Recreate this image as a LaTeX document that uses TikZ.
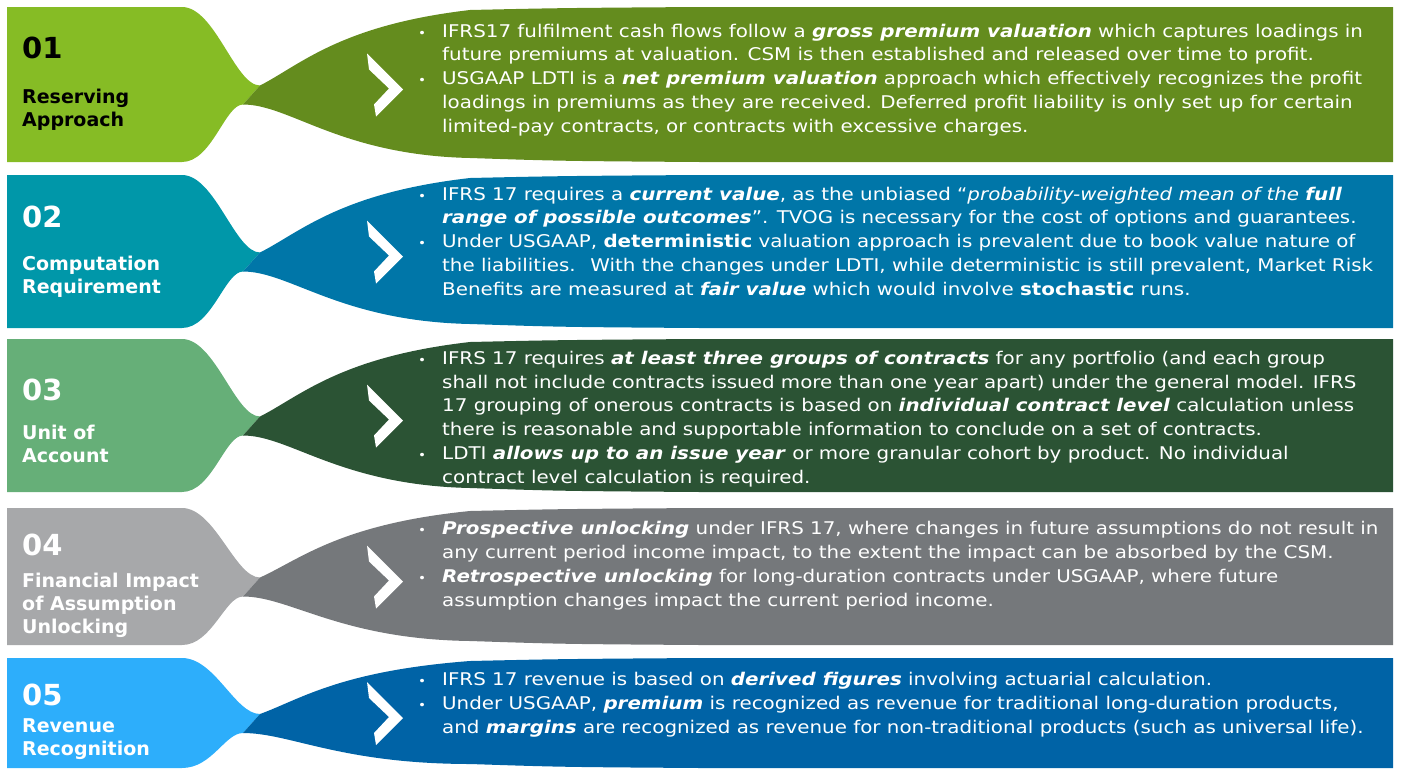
\documentclass[tikz,border=0pt]{standalone}
\usepackage{fontspec}
\setmainfont{DejaVu Sans}
\newfontfamily\bodyfont{DejaVu Sans}[FakeStretch=1.135]
\usepackage{tikz}

\definecolor{greenL}{HTML}{86BC25}
\definecolor{greenD}{HTML}{648C1E}
\definecolor{tealL}{HTML}{0097A9}
\definecolor{tealD}{HTML}{0076A8}
\definecolor{mossL}{HTML}{66AF78}
\definecolor{mossD}{HTML}{2B5334}
\definecolor{greyL}{HTML}{A7A8AA}
\definecolor{greyD}{HTML}{75787B}
\definecolor{skyL}{HTML}{2DAEFB}
\definecolor{skyD}{HTML}{0063A6}

\newcommand{\bfit}[1]{\textbf{\textit{#1}}}
\newcommand{\bul}{\makebox[24pt][l]{\fontsize{12}{12}\selectfont\textbullet}}
\newcommand{\ind}{\hspace*{24pt}}

\tikzset{
    body/.style={anchor=base west, align=left, inner sep=0pt, text=white,
        font=\bodyfont\fontsize{17.5}{23.7}\selectfont},
    num/.style={anchor=base west, inner sep=0pt, text=white,
        font=\fontsize{29}{29}\selectfont\bfseries},
    lab/.style={anchor=base west, align=left, inner sep=0pt, text=white,
        font=\fontsize{19}{23}\selectfont\bfseries}
}

\begin{document}
\begin{tikzpicture}[x=1pt, y=-1pt]
    \useasboundingbox (0,0) rectangle (1402,769);

    % Bands: light tab, dark body and chevron
    \foreach \ya/\yb/\lc/\dc in {7/162/greenL/greenD, 175/328/tealL/tealD,
            339/492/mossL/mossD, 508/645/greyL/greyD, 658/768/skyL/skyD} {
        \pgfmathsetmacro\cy{(\ya+\yb)/2}
        \pgfmathsetmacro\na{\cy+1}
        \pgfmathsetmacro\nb{\cy+20}
        \fill[\lc] (7,\ya) -- (182,\ya) .. controls (215,\ya) and (235,\na) .. (260,\na)
            -- (243,\nb) .. controls (225,\nb) and (212,\yb) .. (182,\yb) -- (7,\yb) -- cycle;
        \fill[\dc] (260,\na) .. controls (300,{\na-0.26*(\na-\ya)}) and (340,{\ya+0.23*(\na-\ya)}) .. (470,\ya+3)
            .. controls (560,\ya+1) .. (700,\ya) -- (1393,\ya) -- (1393,\yb) -- (700,\yb)
            .. controls (560,\yb-1) .. (470,\yb-4)
            .. controls (340,{\yb-0.12*(\yb-\nb)}) and (290,\nb) .. (243,\nb) -- cycle;
        \fill[white] (367,\cy-31) -- (403,\cy+5) -- (376,\cy+32) -- (374,\cy+20)
            -- (389,\cy+4) -- (369,\cy-15) -- cycle;
    }

    % Headers (base = last line)
    \node[num, text=black] (num1) at (22,58) {01};
    \node[lab, text=black] (lab1) at (22,126) {Reserving\\Approach};
    \node[num] (num2) at (22,227) {02};
    \node[lab] (lab2) at (22,293) {Computation\\Requirement};
    \node[num] (num3) at (22,400) {03};
    \node[lab] (lab3) at (22,462) {Unit of\\Account};
    \node[num] (num4) at (22,555) {04};
    \node[lab] (lab4) at (22,633) {Financial Impact\\of Assumption\\Unlocking};
    \node[num] (num5) at (22,705) {05};
    \node[lab] (lab5) at (22,755) {Revenue\\Recognition};

    % Texts (base = last line)
    \node[body] (txt1) at (418,132) {%
        \bul IFRS17 fulfilment cash flows follow a \bfit{gross premium valuation} which captures loadings in\\
        \ind future premiums at valuation. CSM is then established and released over time to profit.\\
        \bul USGAAP LDTI is a \bfit{net premium valuation} approach which effectively recognizes the profit\\
        \ind loadings in premiums as they are received. Deferred profit liability is only set up for certain\\
        \ind limited-pay contracts, or contracts with excessive charges.};
    \node[body] (txt2) at (418,295) {%
        \bul IFRS 17 requires a \bfit{current value}, as the unbiased “\textit{probability-weighted mean of the \textbf{full}}\\
        \ind \bfit{range of possible outcomes}”. TVOG is necessary for the cost of options and guarantees.\\
        \bul Under USGAAP, \textbf{deterministic} valuation approach is prevalent due to book value nature of\\
        \ind the liabilities.~ With the changes under LDTI, while deterministic is still prevalent, Market Risk\\
        \ind Benefits are measured at \bfit{fair value} which would involve \textbf{stochastic} runs.};
    \node[body] (txt3) at (418,483) {%
        \bul IFRS 17 requires \bfit{at least three groups of contracts} for any portfolio (and each group\\
        \ind shall not include contracts issued more than one year apart) under the general model. IFRS\\
        \ind 17 grouping of onerous contracts is based on \bfit{individual contract level} calculation unless\\
        \ind there is reasonable and supportable information to conclude on a set of contracts.\\
        \bul LDTI \bfit{allows up to an issue year} or more granular cohort by product. No individual\\
        \ind contract level calculation is required.};
    \node[body] (txt4) at (418,606) {%
        \bul \bfit{Prospective unlocking} under IFRS 17, where changes in future assumptions do not result in\\
        \ind any current period income impact, to the extent the impact can be absorbed by the CSM.\\
        \bul \bfit{Retrospective unlocking} for long-duration contracts under USGAAP, where future\\
        \ind assumption changes impact the current period income.};
    \node[body] (txt5) at (418,733) {%
        \bul IFRS 17 revenue is based on \bfit{derived figures} involving actuarial calculation.\\
        \bul Under USGAAP, \bfit{premium} is recognized as revenue for traditional long-duration products,\\
        \ind and \bfit{margins} are recognized as revenue for non-traditional products (such as universal life).};

\end{tikzpicture}
\end{document}
